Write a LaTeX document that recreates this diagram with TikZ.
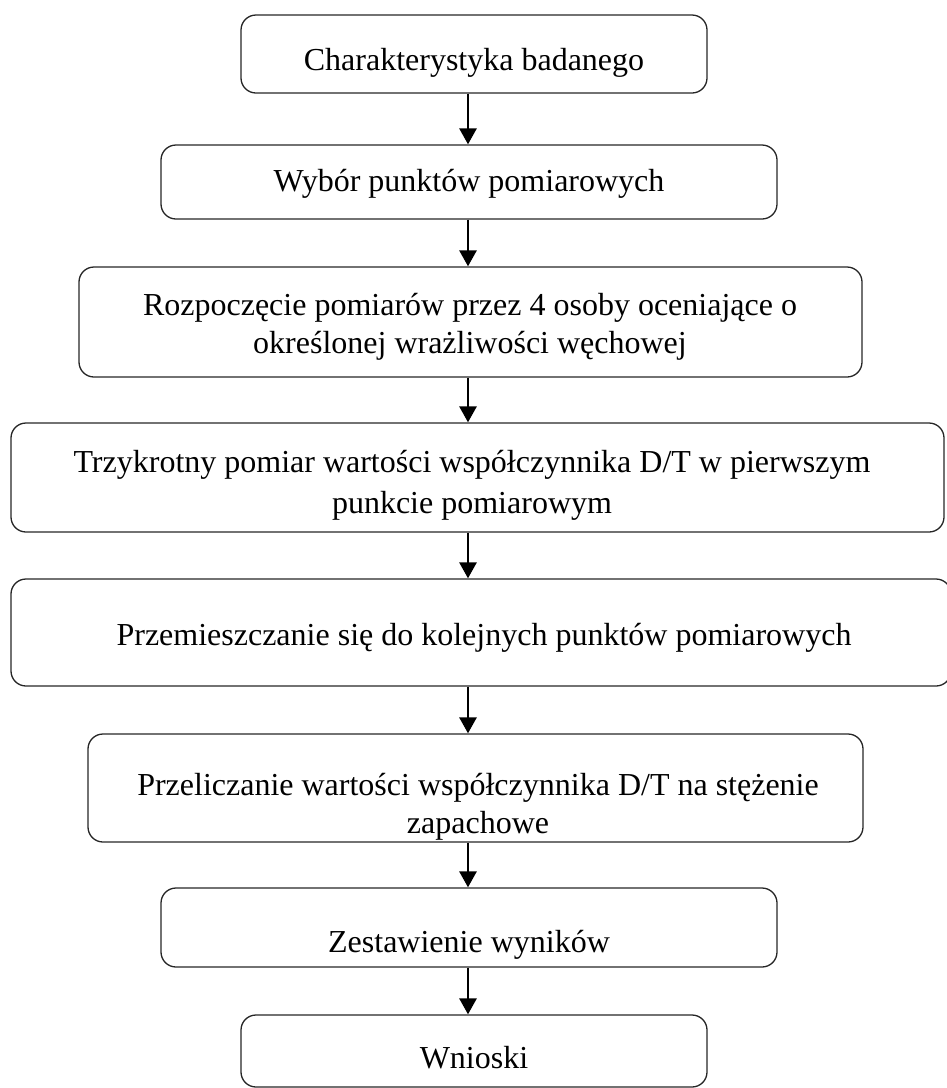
\documentclass[tikz,border=0pt]{standalone}
\usepackage{fontspec}
\setmainfont{Liberation Serif}
\usetikzlibrary{arrows.meta}
\begin{document}
\begin{tikzpicture}[x=1pt,y=-1pt,
  box/.style={draw=black!85, line width=1.3pt, rounded corners=15pt, inner sep=0pt},
  txt/.style={anchor=base, inner sep=0pt, font=\fontsize{32}{38}\selectfont},
  arr/.style={line width=2.8pt, -{Triangle[width=17pt,length=16pt]}}]
\useasboundingbox (0,0) rectangle (947,1088);
\coordinate (ax) at (468,0);
% boxes
\node[box, minimum width=466pt, minimum height=78pt]  (b1) at (474,54) {};
\node[box, minimum width=616pt, minimum height=74pt]  (b2) at (469,182) {};
\node[box, minimum width=783pt, minimum height=110pt] (b3) at (470.5,322) {};
\node[box, minimum width=933pt, minimum height=109pt] (b4) at (477.5,477.5) {};
\node[box, minimum width=940pt, minimum height=107pt] (b5) at (481,632.5) {};
\node[box, minimum width=775pt, minimum height=108pt] (b6) at (475.5,788) {};
\node[box, minimum width=616pt, minimum height=79pt]  (b7) at (469,927.5) {};
\node[box, minimum width=466pt, minimum height=72pt]  (b8) at (474,1051) {};
% texts
\node[txt] (t1) at (474,70) {Charakterystyka badanego};
\node[txt] (t2) at (469,191) {Wybór punktów pomiarowych};
\node[txt] (t3a) at (470,315) {Rozpoczęcie pomiarów przez 4 osoby oceniające o};
\node[txt] (t3b) at (470,353) {określonej wrażliwości węchowej};
\node[txt] (t4a) at (472,472) {Trzykrotny pomiar wartości współczynnika D/T w pierwszym};
\node[txt] (t4b) at (472,513) {punkcie pomiarowym};
\node[txt] (t5) at (484,645) {Przemieszczanie się do kolejnych punktów pomiarowych};
\node[txt] (t6a) at (478,795) {Przeliczanie wartości współczynnika D/T na stężenie};
\node[txt] (t6b) at (478,833) {zapachowe};
\node[txt] (t7) at (469,952) {Zestawienie wyników};
\node[txt] (t8) at (474,1068) {Wnioski};
% arrows
\draw[arr] (b1.south -| ax) -- (b2.north -| ax);
\draw[arr] (b2.south -| ax) -- (b3.north -| ax);
\draw[arr] (b3.south -| ax) -- (b4.north -| ax);
\draw[arr] (b4.south -| ax) -- (b5.north -| ax);
\draw[arr] (b5.south -| ax) -- (b6.north -| ax);
\draw[arr] (b6.south -| ax) -- (b7.north -| ax);
\draw[arr] (b7.south -| ax) -- (b8.north -| ax);
\end{tikzpicture}
\end{document}
